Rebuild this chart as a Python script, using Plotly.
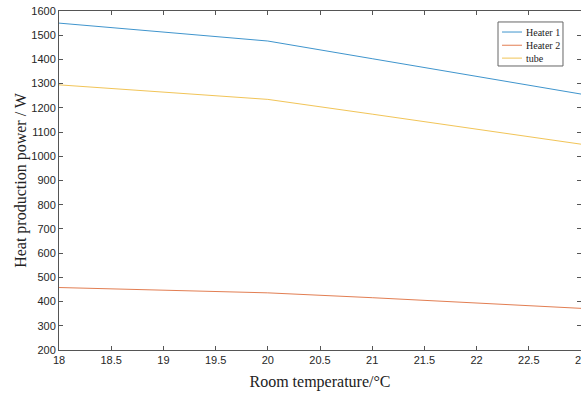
import plotly.graph_objects as go

temps = [18, 19, 20, 21, 22, 23]
heater1 = [1550, 1513, 1476, 1403, 1330, 1257]
heater2 = [458, 447, 436, 416, 394, 372]
tube = [1295, 1265, 1235, 1174, 1112, 1050]

names = ["Heater 1", "Heater 2", "tube"]
colors = ["#0072BD", "#D95319", "#EDB120"]
values = [heater1, heater2, tube]

fig = go.Figure()
for name, vals, col in zip(names, values, colors):
    fig.add_trace(go.Scatter(x=temps, y=vals, mode="lines", name=name,
                             line=dict(color=col, width=1), opacity=0.75,
                             showlegend=False))

axis_common = dict(showline=True, linecolor="#555555", linewidth=1, mirror="ticks",
                   ticks="inside", ticklen=4, tickcolor="#555555", showgrid=False,
                   zeroline=False, automargin=False, ticklabeloverflow="allow",
                   tickfont=dict(family="Liberation Sans, Arial", size=11, color="#262626"))

# custom legend (box, line samples, labels) in paper coordinates
shapes = [dict(type="rect", xref="paper", yref="paper", x0=0.841, x1=0.9655,
               y0=0.8378, y1=0.9676, line=dict(color="#666666", width=1),
               fillcolor="white", layer="above")]
annotations = []
leg_y = [0.938, 0.899, 0.861]
for name, col, yy in zip(names, colors, leg_y):
    shapes.append(dict(type="line", xref="paper", yref="paper", x0=0.8487, x1=0.887,
                       y0=yy, y1=yy, line=dict(color=col, width=1), opacity=0.75,
                       layer="above"))
    annotations.append(dict(xref="paper", yref="paper", x=0.8915, y=yy, text=name,
                            showarrow=False, xanchor="left", yanchor="middle",
                            font=dict(family="Liberation Serif, Times New Roman",
                                      size=10, color="#222222")))

fig.update_layout(
    width=581, height=396,
    margin=dict(l=59, r=0, t=11, b=46),
    paper_bgcolor="white", plot_bgcolor="white",
    xaxis=dict(range=[18, 23], tickvals=[18, 18.5, 19, 19.5, 20, 20.5, 21, 21.5, 22, 22.5, 23],
               ticktext=["18", "18.5", "19", "19.5", "20", "20.5", "21", "21.5", "22", "22.5", "23"],
               title=dict(text="Room temperature/°C", standoff=10,
                          font=dict(family="Liberation Serif, Times New Roman", size=16, color="#222")),
               **axis_common),
    yaxis=dict(range=[200, 1600], dtick=100,
               title=dict(text="Heat production power / W", standoff=0,
                          font=dict(family="Liberation Serif, Times New Roman", size=16, color="#222")),
               **axis_common),
    shapes=shapes,
    annotations=annotations,
    showlegend=False,
)

fig.write_html("out.html", config={"displayModeBar": False},
               post_script="document.body.style.margin='0';document.body.style.overflow='hidden';")
